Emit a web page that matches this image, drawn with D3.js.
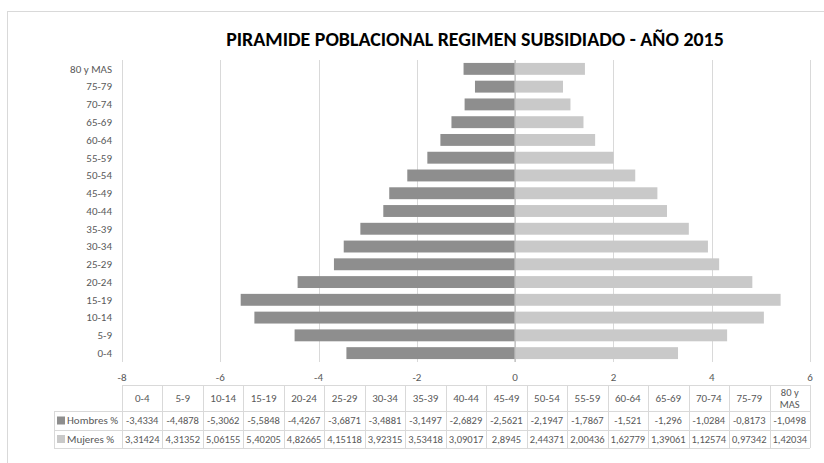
<!DOCTYPE html>
<html>
<head>
<meta charset="utf-8">
<script src="https://cdn.jsdelivr.net/npm/d3@7"></script>
<style>
    body { margin: 0; background: #fff; }
    svg text { font-family: Carlito, Lato, "Open Sans", sans-serif; }
</style>
</head>
<body>
<svg id="chart" width="824" height="463"></svg>
<script>
"use strict";

// grupos de edad (orden de la tabla, de abajo hacia arriba en el eje)
var categorias = ["0-4","5-9","10-14","15-19","20-24","25-29","30-34","35-39","40-44",
    "45-49","50-54","55-59","60-64","65-69","70-74","75-79","80 y MAS"];

var hombres = [-3.4334,-4.4878,-5.3062,-5.5848,-4.4267,-3.6871,-3.4881,-3.1497,-2.6829,
    -2.5621,-2.1947,-1.7867,-1.521,-1.296,-1.0284,-0.8173,-1.0498];

var mujeres = [3.31424,4.31352,5.06155,5.40205,4.82665,4.15118,3.92315,3.53418,3.09017,
    2.8945,2.44371,2.00436,1.62779,1.39061,1.12574,0.97342,1.42034];

var ticksX = [-8,-6,-4,-2,0,2,4,6];

var series = [
    {nombre: "Hombres %", valores: hombres, color: "#8e8e8e"},
    {nombre: "Mujeres %", valores: mujeres, color: "#c9c9c9"}
];

var titulo = "PIRAMIDE POBLACIONAL REGIMEN SUBSIDIADO - AÑO 2015";

var svg = d3.select("#chart");

// borde del area del grafico
svg.append("rect")
    .attr("x", 7.5).attr("y", 11.5)
    .attr("width", 830).attr("height", 470)
    .style("fill", "#fff")
    .style("stroke", "#d9d9d9")
    .style("stroke-width", 1);

var area = {left: 122, right: 810, top: 60, bottom: 362};

var x = d3.scaleLinear().domain([-8, 6]).range([area.left, area.right]);
var y = d3.scaleBand()
    .domain(categorias.slice().reverse())
    .range([area.top, area.bottom])
    .paddingInner(0.33)
    .paddingOuter(0.165);

// titulo, ajustado al ancho
var tTitle = svg.append("text")
    .attr("x", 475).attr("y", 46)
    .attr("text-anchor", "middle")
    .style("font-weight", "bold")
    .style("font-size", "19px")
    .style("fill", "#000")
    .text(titulo);
var tw = tTitle.node().getComputedTextLength();
tTitle.style("font-size", (19 * 498 / tw) + "px");

// lineas de cuadricula
svg.append("g").selectAll("line")
    .data(ticksX.filter(function(d){ return d !== 0; }))
    .enter().append("line")
    .attr("x1", function(d){ return Math.round(x(d)) + 0.5; })
    .attr("x2", function(d){ return Math.round(x(d)) + 0.5; })
    .attr("y1", area.top).attr("y2", area.bottom)
    .style("stroke", "#d9d9d9");

// barras
series.forEach(function(s){
    svg.append("g").selectAll("rect")
        .data(s.valores)
        .enter().append("rect")
        .attr("x", function(d){ return x(Math.min(0, d)); })
        .attr("y", function(d, i){ return y(categorias[i]); })
        .attr("width", function(d){ return Math.abs(x(d) - x(0)); })
        .attr("height", y.bandwidth())
        .style("fill", s.color);
});

// eje cero
svg.append("line")
    .attr("x1", x(0)).attr("x2", x(0))
    .attr("y1", area.top).attr("y2", area.bottom)
    .style("stroke", "#bfbfbf")
    .style("stroke-width", 1.5);

// etiquetas de categorias
svg.append("g").selectAll("text")
    .data(categorias)
    .enter().append("text")
    .attr("x", 112)
    .attr("y", function(d){ return y(d) + y.bandwidth() / 2; })
    .attr("dy", "0.35em")
    .attr("text-anchor", "end")
    .style("font-size", "11px")
    .style("fill", "#595959")
    .text(function(d){ return d; });

// etiquetas del eje x
svg.append("g").selectAll("text")
    .data(ticksX)
    .enter().append("text")
    .attr("x", function(d){ return x(d); })
    .attr("y", 377)
    .attr("dy", "0.35em")
    .attr("text-anchor", "middle")
    .style("font-size", "11px")
    .style("fill", "#595959")
    .text(function(d){ return d; });

// tabla de datos
var col = d3.scaleBand().domain(categorias).range([area.left, area.right]);
var tabla = {top: 385, header: 411, row1: 430, bottom: 448, labelLeft: 54};
var gT = svg.append("g");

function linea(x1, y1, x2, y2){
    gT.append("line")
        .attr("x1", x1).attr("y1", y1).attr("x2", x2).attr("y2", y2)
        .style("stroke", "#d9d9d9");
}

linea(area.left, tabla.top + 0.5, area.right, tabla.top + 0.5);
[tabla.header, tabla.row1, tabla.bottom].forEach(function(v){
    linea(tabla.labelLeft, v + 0.5, area.right, v + 0.5);
});
linea(tabla.labelLeft + 0.5, tabla.header, tabla.labelLeft + 0.5, tabla.bottom);
categorias.forEach(function(c){
    var cx = Math.round(col(c)) + 0.5;
    linea(cx, tabla.top, cx, tabla.bottom);
});
linea(area.right + 0.5, tabla.top, area.right + 0.5, tabla.bottom);

// encabezados
categorias.forEach(function(c){
    var cx = col(c) + col.bandwidth() / 2;
    var partes = c === "80 y MAS" ? ["80 y", "MAS"] : [c];
    partes.forEach(function(p, j){
        gT.append("text")
            .attr("x", cx)
            .attr("y", (tabla.top + tabla.header) / 2 + (j - (partes.length - 1) / 2) * 12)
            .attr("dy", "0.35em")
            .attr("text-anchor", "middle")
            .style("font-size", partes.length > 1 ? "10.5px" : "11px")
            .style("fill", "#595959")
            .text(p);
    });
});

// filas de valores
var filas = [[tabla.header, tabla.row1], [tabla.row1, tabla.bottom]];
series.forEach(function(s, k){
    var cy = (filas[k][0] + filas[k][1]) / 2;
    gT.append("rect")
        .attr("x", 57).attr("y", cy - 4)
        .attr("width", 8).attr("height", 8)
        .style("fill", s.color);
    gT.append("text")
        .attr("x", 67).attr("y", cy)
        .attr("dy", "0.35em")
        .style("font-size", "11px")
        .style("fill", "#595959")
        .text(s.nombre);
    s.valores.forEach(function(v, i){
        var t = gT.append("text")
            .attr("x", col(categorias[i]) + col.bandwidth() / 2)
            .attr("y", cy)
            .attr("dy", "0.35em")
            .attr("text-anchor", "middle")
            .style("font-size", "10.5px")
            .style("fill", "#595959")
            .text(String(v).replace(".", ","));
        // que no se salga de la celda
        var w = t.node().getComputedTextLength();
        if (w > col.bandwidth() - 2) {
            t.attr("textLength", col.bandwidth() - 2).attr("lengthAdjust", "spacingAndGlyphs");
        }
    });
});
</script>
</body>
</html>
